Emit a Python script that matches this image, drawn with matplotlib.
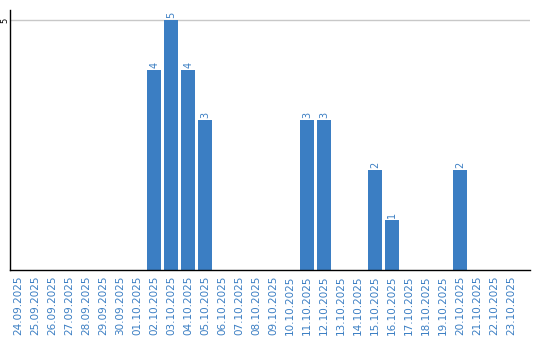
import matplotlib
matplotlib.use("Agg")
import matplotlib.pyplot as plt
import numpy as np

dates = ["24.09.2025", "25.09.2025", "26.09.2025", "27.09.2025", "28.09.2025",
         "29.09.2025", "30.09.2025", "01.10.2025", "02.10.2025", "03.10.2025",
         "04.10.2025", "05.10.2025", "06.10.2025", "07.10.2025", "08.10.2025",
         "09.10.2025", "10.10.2025", "11.10.2025", "12.10.2025", "13.10.2025",
         "14.10.2025", "15.10.2025", "16.10.2025", "17.10.2025", "18.10.2025",
         "19.10.2025", "20.10.2025", "21.10.2025", "22.10.2025", "23.10.2025"]
counts = [0, 0, 0, 0, 0, 0, 0, 0, 4, 5, 4, 3, 0, 0, 0, 0, 0, 3, 3, 0,
          0, 2, 1, 0, 0, 0, 2, 0, 0, 0]

blue = "#3b7ec3"
fig = plt.figure(figsize=(5.4, 3.4), dpi=100)
ax = fig.add_axes([10/540, 70/340, 520/540, 260/340])

x = np.arange(len(dates))
ax.bar(x, counts, width=0.82, color=blue, zorder=2)
for xi, v in zip(x, counts):
    if v > 0:
        ax.text(xi, v + 0.04, str(v), rotation=90, ha="center", va="bottom",
                color=blue, fontsize=7)

ax.set_xlim(-0.47, 30.1)
ax.set_ylim(0, 5.2)
ax.set_yticks([5])
ax.set_yticklabels(["5"], rotation=90, fontsize=6, va="center")
ax.yaxis.grid(True, color="#c8c8c8", linewidth=1, zorder=0)
ax.tick_params(axis="y", length=0, pad=0.5)
ax.set_xticks(x)
ax.set_xticklabels(dates, rotation=90, fontsize=7.5, color=blue)
ax.tick_params(axis="x", length=0, pad=4)
for s in ["top", "right"]:
    ax.spines[s].set_visible(False)
ax.spines["left"].set_color("black")
ax.spines["bottom"].set_color("black")
ax.spines["left"].set_linewidth(1)
ax.spines["bottom"].set_linewidth(1)

fig.savefig("out.png", dpi=100)
